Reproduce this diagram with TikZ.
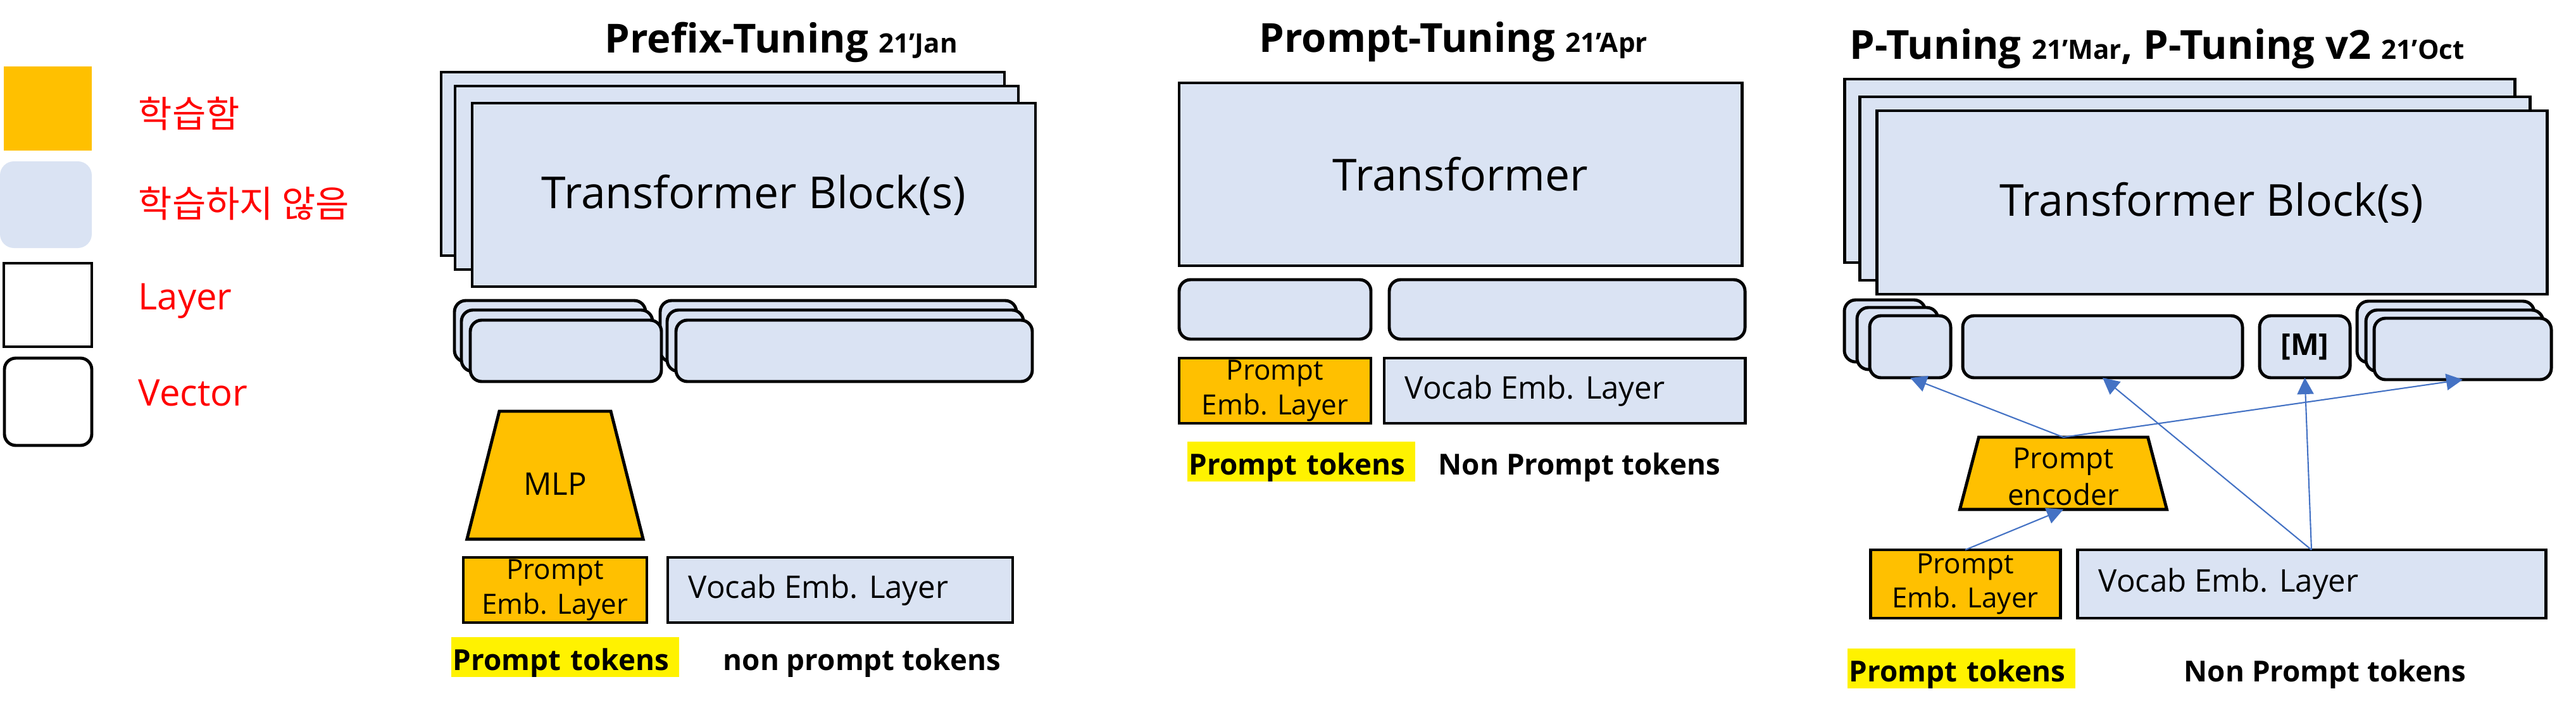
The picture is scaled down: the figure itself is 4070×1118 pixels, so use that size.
\documentclass[tikz,border=0pt]{standalone}
\usepackage{fontspec}
\setmainfont{Open Sans}
\newfontfamily\kofont{Noto Sans CJK KR}
\usetikzlibrary{shapes.geometric,arrows.meta}
\definecolor{learnfill}{HTML}{FFC000}
\definecolor{frozenfill}{HTML}{DAE3F3}
\definecolor{linkblue}{HTML}{4472C4}
\newcommand{\boxnode}[7]{%
    \node[#1, anchor=north west, minimum width={((#5)-(#3))*0.01cm}, minimum height={((#6)-(#4))*0.01cm}] (#2) at (#3,#4) {#7};%
}
\tikzset{
    sw/.style={inner sep=0pt, outer sep=0pt},
    layer/.style={sw, draw=black, line width=1.4pt},
    vec/.style={layer, rounded corners=0.18cm},
    learned/.style={fill=learnfill},
    frozen/.style={fill=frozenfill},
    legtxt/.style={text=red, anchor=base west, inner sep=0pt, font=\fontsize{16.5}{20}\selectfont},
    ttl/.style={anchor=base west, inner sep=0pt, font=\fontsize{18}{22}\selectfont\bfseries},
    bigtxt/.style={font=\fontsize{19.8}{24}\selectfont},
    embtxt/.style={align=center, font=\fontsize{12.5}{15.5}\selectfont},
    voctxt/.style={anchor=west, inner sep=0pt, font=\fontsize{14}{17}\selectfont},
    tok/.style={anchor=base west, inner sep=0pt, font=\fontsize{13}{16}\selectfont\bfseries},
    hl/.style={tok, fill=yellow, inner xsep=0.03cm, text width=3.54cm, text height=0.52cm, text depth=0.11cm},
    enc/.style={layer, learned, trapezium, align=center, anchor=north},
    link/.style={draw=linkblue, line width=0.6pt, -{Triangle[length=0.26cm, width=0.26cm]}},
}
\newcommand{\subsz}{\fontsize{12}{14}\selectfont}

\begin{document}
\begin{tikzpicture}[x=0.01cm, y=-0.01cm]
    \useasboundingbox (0,0) rectangle (4070,1118);
    \boxnode{sw,learned}{leglearn}{6}{105}{145}{238}{}
    \boxnode{sw,frozen,rounded corners=0.22cm}{legfrozen}{0}{255}{145}{392}{}
    \boxnode{layer}{leglayer}{6}{416}{145}{548}{}
    \boxnode{vec}{legvec}{7}{566}{145}{704}{}
    \foreach \n/\y/\t in {1/201/{\kofont 학습함},2/343/{\kofont 학습하지 않음},3/489/Layer,4/641/Vector}{%
        \node[legtxt] (legt\n) at (218,\y) {\t};
    }%
    \node[ttl] (pftitle) at (955,83) {Prefix-Tuning {\subsz 21’Jan}};
    \foreach \i/\d in {1/0,2/22,3/49}{%
        \boxnode{layer,frozen}{pfblk\i}{697+\d}{114+\d}{1587+\d}{404+\d}{}
    }%
    \node[bigtxt] (pftxt) at (pfblk3) {Transformer Block(s)};
    \foreach \i/\dx/\dy in {1/0/0,2/11/15,3/25/31}{%
        \boxnode{vec,frozen}{pfva\i}{718+\dx}{475+\dy}{1020+\dx}{572+\dy}{}
        \boxnode{vec,frozen}{pfvb\i}{1043+\dx}{475+\dy}{1606+\dx}{572+\dy}{}
    }%
    \node[enc, trapezium left angle=75.8, trapezium right angle=75.8, text width=1.76cm, text height=1.32cm, text depth=0.70cm, font=\fontsize{14}{17}\selectfont] (mlp) at (877,650) {MLP};
    \boxnode{layer,learned,embtxt}{pfpe}{732}{881}{1022}{984}{Prompt\\Emb. Layer}
    \boxnode{layer,frozen}{pfvoc}{1055}{881}{1600}{984}{}
    \node[voctxt] (pfvoctxt) at ([xshift=0.32cm]pfvoc.west) {Vocab Emb. Layer};
    \node[hl] (pftok) at (712,1059) {Prompt tokens};
    \node[tok] (pfnon) at (1142,1059) {non prompt tokens};

    \node[ttl] (pttitle) at (1989,82) {Prompt-Tuning {\subsz 21’Apr}};
    \boxnode{layer,frozen,bigtxt}{pttr}{1863}{131}{2752}{420}{Transformer}
    \boxnode{vec,frozen}{ptva}{1863}{442}{2166}{536}{}
    \boxnode{vec,frozen}{ptvb}{2195}{442}{2757}{536}{}
    \boxnode{layer,learned,embtxt}{ptpe}{1863}{566}{2166}{669}{Prompt\\Emb. Layer}
    \boxnode{layer,frozen}{ptvoc}{2187}{566}{2757}{669}{}
    \node[voctxt] (ptvoctxt) at ([xshift=0.32cm]ptvoc.west) {Vocab Emb. Layer};
    \node[hl] (pttok) at (1875,750) {Prompt tokens};
    \node[tok] (ptnon) at (2272,750) {Non Prompt tokens};

    \node[ttl] (pgtitle) at (2922,93) {P-Tuning {\subsz 21’Mar}, P-Tuning v2 {\subsz 21’Oct}};
    \foreach \i/\dx/\dy in {1/0/0,2/24/28,3/51/50}{%
        \boxnode{layer,frozen}{pgblk\i}{2914+\dx}{125+\dy}{3973+\dx}{415+\dy}{}
    }%
    \node[bigtxt] (pgtxt) at (pgblk3) {Transformer Block(s)};
    \foreach \i/\dx/\dy in {1/0/0,2/20/12,3/40/25}{%
        \boxnode{vec,frozen}{pgva\i}{2914+\dx}{474+\dy}{3042+\dx}{572+\dy}{}
    }%
    \boxnode{vec,frozen}{pgmid}{3101}{499}{3543}{597}{}
    \boxnode{vec,frozen,font=\fontsize{13.5}{16}\selectfont\bfseries}{pgmask}{3570}{499}{3713}{597}{[M]}
    \foreach \i/\d in {1/0,2/14,3/27}{%
        \boxnode{vec,frozen}{pgvb\i}{3724+\d}{476+\d}{4004+\d}{573+\d}{}
    }%
    \node[enc, trapezium left angle=75.3, trapezium right angle=75.3, text width=2.67cm, text height=0.49cm, text depth=0.65cm, font=\fontsize{13}{16.5}\selectfont] (pgenc) at (3260,691) {Prompt\\encoder};
    \boxnode{layer,learned,embtxt}{pgpe}{2955}{869}{3255}{977}{Prompt\\Emb. Layer}
    \boxnode{layer,frozen}{pgvoc}{3282}{869}{4022}{977}{}
    \node[voctxt] (pgvoctxt) at ([xshift=0.33cm]pgvoc.west) {Vocab Emb. Layer};
    \node[hl] (pgtok) at (2918,1077) {Prompt tokens};
    \node[tok] (pgnon) at (3450,1077) {Non Prompt tokens};
    \draw[link] (pgpe.north) -- (pgenc.south);
    \draw[link] (pgenc.north) -- (pgva3.south);
    \draw[link] (pgenc.north) -- (pgvb3.south);
    \draw[link] (pgvoc.north) -- (pgmid.south);
    \draw[link] (pgvoc.north) -- (pgmask.south);
\end{tikzpicture}
\end{document}
